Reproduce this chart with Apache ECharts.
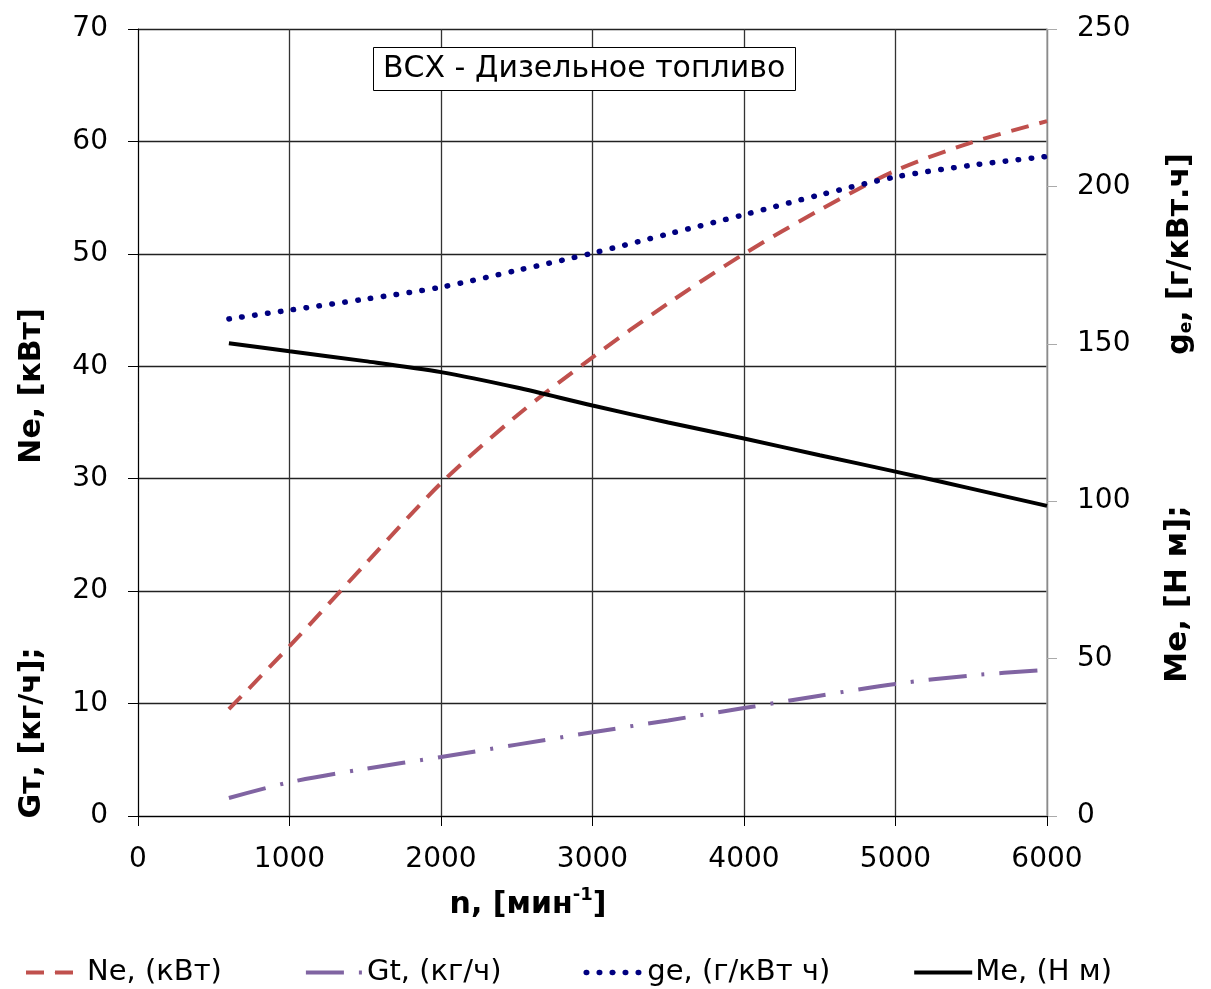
<!DOCTYPE html>
<html>
<head>
<meta charset="utf-8">
<script src="https://cdn.jsdelivr.net/npm/echarts@6/dist/echarts.min.js"></script>
<style>
html,body{margin:0;padding:0;background:#fff;}
#chart{width:1211px;height:989px;}
</style>
</head>
<body>
<div id="chart"></div>
<script>
// Data
const rpm = [600, 1000, 1500, 2000, 2500, 3000, 3500, 4000, 4500, 5000, 5500, 6000];
const neKw = [9.5, 15.1, 22.4, 29.6, 35.6, 40.8, 45.6, 50.0, 53.9, 57.4, 59.9, 61.8];
const gtKgH = [1.6, 3.0, 4.2, 5.25, 6.35, 7.45, 8.5, 9.6, 10.7, 11.75, 12.5, 13.0];
const geGkWh = [157.9, 160.7, 164.2, 168.0, 173.3, 178.8, 184.9, 191.0, 197.3, 203.0, 206.7, 209.5];
const meNm = [150.2, 147.6, 144.5, 141.0, 136.1, 130.4, 125.0, 119.9, 114.6, 109.4, 104.0, 98.5];
const seriesNames = ['Ne, (кВт)', 'Gt, (кг/ч)', 'ge, (г/кВт ч)', 'Me, (Н м)'];
const chartTitle = 'ВСХ - Дизельное топливо';

const FONT = 'DejaVu Sans';
const pairs = (ys) => rpm.map((x, i) => [x, ys[i]]);

const chart = echarts.init(document.getElementById('chart'), null, {renderer: 'canvas'});
const option = {
  backgroundColor: '#ffffff',
  animation: false,
  title: {
    text: chartTitle,
    left: 373, top: 47,
    padding: [7, 10, 7, 10],
    borderWidth: 1, borderColor: '#000',
    backgroundColor: '#fff',
    textStyle: {fontFamily: FONT, fontSize: 30, fontWeight: 'normal', color: '#000'}
  },
  grid: {left: 138, right: 164, top: 29, bottom: 173, containLabel: false},
  legend: {
    left: 19, top: 953,
    itemWidth: 58, itemHeight: 1, itemGap: 82,
    lineStyle: {width: 'inherit'},
    textStyle: {fontFamily: FONT, fontSize: 29, color: '#000', padding: [0, 0, 0, -2]},
    data: seriesNames
  },
  xAxis: {
    type: 'value', min: 0, max: 6000, interval: 1000,
    axisLine: {show: true, onZero: false, lineStyle: {color: '#000', width: 1}},
    axisTick: {show: true, length: 10, lineStyle: {color: '#000'}},
    axisLabel: {fontFamily: FONT, fontSize: 28, color: '#000', margin: 30, formatter: (v) => String(v)},
    splitLine: {show: true, lineStyle: {color: '#333', width: 1.3}}
  },
  yAxis: [
    {
      type: 'value', min: 0, max: 70, interval: 10, position: 'left',
      axisLine: {show: true, lineStyle: {color: '#000', width: 1}},
      axisTick: {show: true, length: 10, lineStyle: {color: '#000'}},
      axisLabel: {fontFamily: FONT, fontSize: 28, color: '#000', margin: 30},
      splitLine: {show: true, lineStyle: {color: '#222', width: 1.3}}
    },
    {
      type: 'value', min: 0, max: 250, interval: 50, position: 'right',
      axisLine: {show: true, lineStyle: {color: '#aaa', width: 1.5}},
      axisTick: {show: true, length: 10, lineStyle: {color: '#aaa'}},
      axisLabel: {fontFamily: FONT, fontSize: 28, color: '#000', margin: 30},
      splitLine: {show: false}
    }
  ],
  series: [
    {
      name: seriesNames[0], type: 'line', yAxisIndex: 0, data: pairs(neKw),
      smooth: 0.3, showSymbol: false, symbol: 'none', z: 3,
      lineStyle: {color: '#c0504d', width: 4, type: [18, 11]},
      itemStyle: {color: '#c0504d'}
    },
    {
      name: seriesNames[1], type: 'line', yAxisIndex: 0, data: pairs(gtKgH),
      smooth: 0.3, showSymbol: false, symbol: 'none', z: 3,
      lineStyle: {color: '#8064a2', width: 4, type: [38, 15, 3, 15]},
      itemStyle: {color: '#8064a2'}
    },
    {
      name: seriesNames[2], type: 'line', yAxisIndex: 1, data: pairs(geGkWh),
      smooth: 0.3, showSymbol: false, symbol: 'none', z: 3,
      lineStyle: {color: '#000080', width: 5.5, type: [0.5, 12.5], cap: 'round'},
      itemStyle: {color: '#000080'}
    },
    {
      name: seriesNames[3], type: 'line', yAxisIndex: 1, data: pairs(meNm),
      smooth: 0.3, showSymbol: false, symbol: 'none', z: 3,
      lineStyle: {color: '#000', width: 4},
      itemStyle: {color: '#000'}
    }
  ],
  graphic: [
    {
      type: 'text', x: 32, y: 386, rotation: Math.PI / 2,
      style: {text: 'Ne, [кВт]', fontFamily: FONT, fontSize: 30, fontWeight: 'bold', fill: '#000', align: 'center', verticalAlign: 'middle'}
    },
    {
      type: 'text', x: 32, y: 733, rotation: Math.PI / 2,
      style: {text: 'Gт, [кг/ч];', fontFamily: FONT, fontSize: 30, fontWeight: 'bold', fill: '#000', align: 'center', verticalAlign: 'middle'}
    },
    {
      type: 'text', x: 1178, y: 254, rotation: Math.PI / 2,
      style: {
        text: '{b|g}{s|e}{b|, [г/кВт.ч]}', align: 'center', verticalAlign: 'middle',
        rich: {
          b: {fontFamily: FONT, fontSize: 30, fontWeight: 'bold', fill: '#000', lineHeight: 34, verticalAlign: 'bottom'},
          s: {fontFamily: FONT, fontSize: 17, fontWeight: 'bold', fill: '#000', lineHeight: 34, verticalAlign: 'bottom'}
        }
      }
    },
    {
      type: 'text', x: 1178, y: 594, rotation: Math.PI / 2,
      style: {text: 'Me, [Н м];', fontFamily: FONT, fontSize: 31, fontWeight: 'bold', fill: '#000', align: 'center', verticalAlign: 'middle'}
    },
    {
      type: 'text', x: 528, y: 903,
      style: {
        text: '{b|n, [мин}{s|-1}{b|]}', align: 'center', verticalAlign: 'middle',
        rich: {
          b: {fontFamily: FONT, fontSize: 30, fontWeight: 'bold', fill: '#000', lineHeight: 34, verticalAlign: 'bottom'},
          s: {fontFamily: FONT, fontSize: 18, fontWeight: 'bold', fill: '#000', lineHeight: 34, verticalAlign: 'top'}
        }
      }
    }
  ]
};
chart.setOption(option);
</script>
</body>
</html>
